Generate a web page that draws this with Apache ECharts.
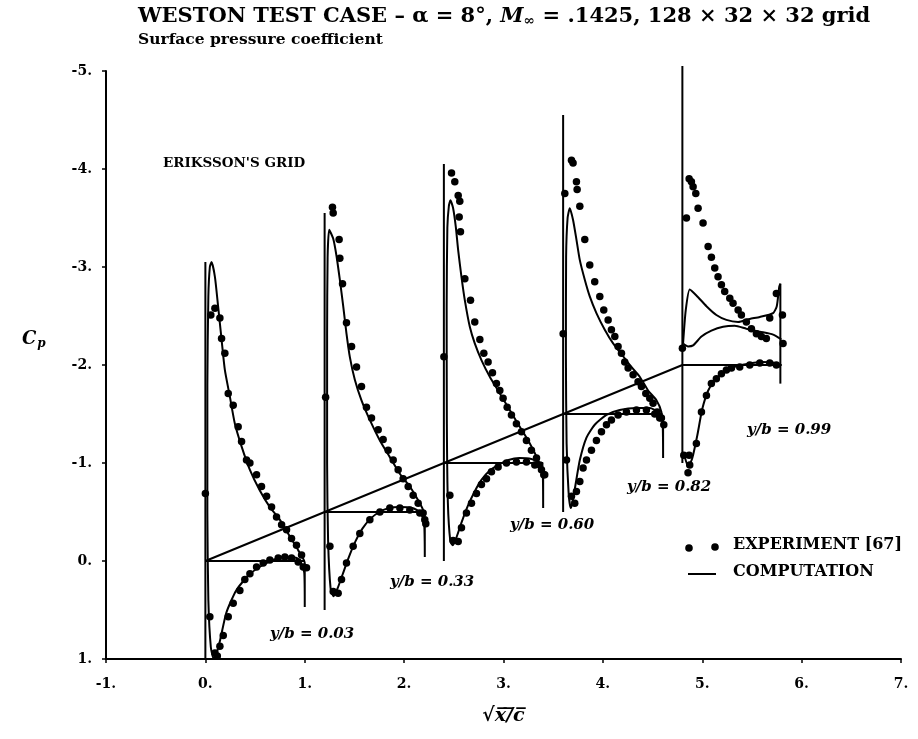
<!DOCTYPE html>
<html>
<head>
<meta charset="utf-8">
<script src="https://cdn.jsdelivr.net/npm/echarts@6/dist/echarts.min.js"></script>
<style>
  html, body { margin: 0; padding: 0; background: #fff; }
  #chart { width: 918px; height: 739px; }
</style>
</head>
<body>
<div id="chart"></div>
<script>
// Spanwise stations: each one is drawn shifted along sqrt(x/c) and Cp.
const stationNames = ['y/b = 0.03', 'y/b = 0.33', 'y/b = 0.60', 'y/b = 0.82', 'y/b = 0.99'];
const stationShiftX = [0, 1.2, 2.4, 3.6, 4.8];
const stationShiftCp = [0, -0.5, -1.0, -1.5, -2.0];

// Leading-edge reference line of every station, local Cp from/to.
const leadingEdgeSpan = [1.0, -3.05];
// Station zero line, local sqrt(x/c) from/to.
const zeroLineSpan = [0, 1.0];

// Axis ticks
const xTicks = [-1, 0, 1, 2, 3, 4, 5, 6, 7];
const yTicks = [-5, -4, -3, -2, -1, 0, 1];

// Experiment [67]: local [sqrt(x/c), Cp] per station
const exp003 = [
  [0, -0.69],
  [0.055, -2.51], [0.096, -2.58], [0.146, -2.48], [0.163, -2.27], [0.196, -2.12], [0.23, -1.71],
  [0.28, -1.59], [0.33, -1.37], [0.364, -1.22], [0.414, -1.03], [0.448, -1.0], [0.515, -0.88],
  [0.565, -0.76], [0.616, -0.66], [0.666, -0.55], [0.716, -0.45], [0.767, -0.37], [0.817, -0.32],
  [0.867, -0.23], [0.917, -0.16], [0.968, -0.06], [1.018, 0.07],
  [0.045, 0.57], [0.096, 0.94], [0.12, 0.97], [0.146, 0.87], [0.18, 0.76], [0.23, 0.57], [0.28, 0.43],
  [0.347, 0.3], [0.397, 0.19], [0.448, 0.13], [0.515, 0.06], [0.582, 0.02], [0.649, -0.01],
  [0.733, -0.03], [0.8, -0.04], [0.867, -0.03], [0.934, 0.01], [0.985, 0.06]
];
const exp033 = [
  [0.01, -1.17],
  [0.079, -3.11], [0.086, -3.05], [0.146, -2.78], [0.153, -2.59], [0.18, -2.33], [0.22, -1.93],
  [0.271, -1.69], [0.321, -1.48], [0.371, -1.28], [0.421, -1.07], [0.472, -0.96], [0.539, -0.84],
  [0.589, -0.74], [0.639, -0.63], [0.69, -0.53], [0.74, -0.43], [0.79, -0.34], [0.841, -0.26],
  [0.891, -0.17], [0.941, -0.09], [0.991, 0.01], [1.018, 0.12],
  [0.053, 0.35], [0.086, 0.81], [0.136, 0.83], [0.17, 0.69], [0.22, 0.52], [0.287, 0.35],
  [0.354, 0.22], [0.455, 0.08], [0.556, 0.0], [0.656, -0.04], [0.757, -0.04], [0.857, -0.02],
  [0.958, 0.01], [1.008, 0.08]
];
const exp060 = [
  [0, -1.085],
  [0.077, -2.96], [0.11, -2.87], [0.144, -2.73], [0.16, -2.67], [0.154, -2.51], [0.167, -2.36],
  [0.211, -1.88], [0.268, -1.66], [0.311, -1.44], [0.362, -1.26], [0.402, -1.12], [0.445, -1.03],
  [0.489, -0.92], [0.529, -0.81], [0.563, -0.74], [0.596, -0.66], [0.637, -0.57], [0.68, -0.49],
  [0.73, -0.4], [0.781, -0.32], [0.831, -0.23], [0.881, -0.13], [0.932, -0.05], [0.965, 0.02],
  [1.005, 0.12],
  [0.06, 0.33], [0.093, 0.79], [0.144, 0.8], [0.177, 0.66], [0.227, 0.51], [0.278, 0.41],
  [0.328, 0.31], [0.378, 0.22], [0.429, 0.16], [0.479, 0.09], [0.546, 0.04], [0.63, 0.0],
  [0.73, -0.01], [0.831, -0.01], [0.915, 0.02], [0.982, 0.07], [1.015, 0.12]
];
const exp082 = [
  [0, -0.82], [0.017, -2.25],
  [0.084, -2.59], [0.1, -2.56], [0.134, -2.37], [0.141, -2.29], [0.168, -2.12], [0.218, -1.78],
  [0.268, -1.52], [0.318, -1.35], [0.369, -1.2], [0.409, -1.06], [0.453, -0.96], [0.486, -0.86],
  [0.52, -0.79], [0.553, -0.69], [0.587, -0.62], [0.62, -0.53], [0.654, -0.47], [0.704, -0.4],
  [0.754, -0.33], [0.788, -0.28], [0.832, -0.21], [0.872, -0.16], [0.905, -0.11], [0.946, -0.02],
  [0.972, 0.04], [1.013, 0.11],
  [0.034, 0.47], [0.084, 0.84], [0.117, 0.91], [0.134, 0.79], [0.168, 0.69], [0.201, 0.55],
  [0.235, 0.47], [0.285, 0.37], [0.335, 0.27], [0.386, 0.18], [0.436, 0.11], [0.486, 0.06],
  [0.553, 0.01], [0.637, -0.02], [0.738, -0.04], [0.838, -0.04], [0.922, 0.0], [0.989, 0.04]
];
const exp099 = [
  [0, -0.17],
  [0.068, -1.9], [0.091, -1.87], [0.108, -1.82], [0.135, -1.75], [0.041, -1.5], [0.158, -1.6],
  [0.208, -1.45], [0.259, -1.21], [0.292, -1.1], [0.326, -0.99], [0.359, -0.9], [0.393, -0.82],
  [0.426, -0.75], [0.477, -0.68], [0.51, -0.63], [0.561, -0.56], [0.594, -0.51], [0.644, -0.44],
  [0.695, -0.37], [0.745, -0.32], [0.795, -0.29], [0.845, -0.27], [0.879, -0.48], [0.946, -0.73],
  [1.007, -0.51], [1.013, -0.22],
  [0.014, 0.92], [0.068, 0.92], [0.074, 1.02], [0.057, 1.1], [0.141, 0.8], [0.192, 0.48],
  [0.242, 0.31], [0.292, 0.19], [0.342, 0.14], [0.393, 0.09], [0.443, 0.05], [0.494, 0.03],
  [0.577, 0.02], [0.678, 0.0], [0.779, -0.02], [0.879, -0.02], [0.946, 0.0]
];

// Computation: local [sqrt(x/c), Cp], traced TE -> lower surface -> LE -> upper surface -> TE
const comp003 = [
  [1.0, 0.47], [0.995, 0.12], [0.96, 0.01], [0.92, -0.03], [0.78, -0.04], [0.62, 0.02], [0.45, 0.13],
  [0.31, 0.3], [0.21, 0.53], [0.15, 0.8], [0.11, 0.95], [0.085, 1.0], [0.055, 0.88], [0.03, 0.4],
  [0.02, -0.5], [0.02, -1.8], [0.03, -2.7], [0.045, -3.0],
  [0.062, -3.05], [0.096, -2.9], [0.129, -2.59], [0.163, -2.26], [0.196, -1.95], [0.246, -1.68],
  [0.297, -1.4], [0.364, -1.17], [0.448, -0.93], [0.548, -0.72], [0.649, -0.55], [0.75, -0.42],
  [0.85, -0.25], [0.934, -0.11], [1.0, 0.02], [1.0, 0.47]
];
const comp033 = [
  [1.008, 0.46], [1.0, 0.1], [0.96, 0.0], [0.88, -0.04], [0.76, -0.05], [0.65, -0.04], [0.55, 0.0],
  [0.46, 0.07], [0.38, 0.17], [0.31, 0.3], [0.24, 0.47], [0.18, 0.64], [0.13, 0.78], [0.09, 0.86],
  [0.06, 0.78], [0.035, 0.3], [0.025, -0.5], [0.025, -1.8], [0.03, -2.6],
  [0.046, -2.88], [0.086, -2.79], [0.12, -2.61], [0.153, -2.37], [0.187, -2.1], [0.22, -1.82],
  [0.254, -1.58], [0.304, -1.35], [0.371, -1.14], [0.455, -0.94], [0.556, -0.73], [0.656, -0.56],
  [0.757, -0.39], [0.857, -0.26], [0.941, -0.12], [0.991, -0.02], [1.008, 0.08], [1.008, 0.46]
];
const comp060 = [
  [0.999, 0.46], [0.995, 0.12], [0.96, 0.0], [0.88, -0.04], [0.76, -0.05], [0.65, -0.03], [0.55, 0.02],
  [0.46, 0.08], [0.38, 0.17], [0.31, 0.29], [0.24, 0.44], [0.18, 0.6], [0.13, 0.75], [0.09, 0.84],
  [0.065, 0.8], [0.04, 0.4], [0.03, -0.4], [0.028, -1.6], [0.035, -2.4], [0.05, -2.62],
  [0.066, -2.68], [0.093, -2.6], [0.12, -2.41], [0.144, -2.17], [0.177, -1.9], [0.211, -1.66],
  [0.261, -1.39], [0.311, -1.22], [0.378, -1.05], [0.462, -0.88], [0.563, -0.71], [0.663, -0.54],
  [0.764, -0.37], [0.865, -0.2], [0.948, -0.03], [0.999, 0.12], [0.999, 0.46]
];
const comp082 = [
  [1.006, 0.45], [0.999, 0.06], [0.955, -0.02], [0.872, -0.06], [0.738, -0.06], [0.57, -0.04],
  [0.436, 0.01], [0.318, 0.11], [0.235, 0.24], [0.168, 0.47], [0.12, 0.75], [0.09, 0.92],
  [0.077, 0.96], [0.055, 0.8], [0.035, 0.3], [0.028, -0.6], [0.03, -1.6], [0.045, -2.0],
  [0.067, -2.1], [0.1, -1.98], [0.134, -1.78], [0.168, -1.57], [0.218, -1.37], [0.268, -1.2],
  [0.335, -1.03], [0.419, -0.86], [0.503, -0.72], [0.603, -0.59], [0.687, -0.48], [0.771, -0.38],
  [0.855, -0.24], [0.939, -0.14], [0.989, -0.02], [1.006, 0.16], [1.006, 0.45]
];
// Tip station: suction-side loop, trailing-edge line and pressure side
const comp099Upper = [
  [0.007, -0.22], [0.034, -0.56], [0.074, -0.77], [0.141, -0.71], [0.242, -0.6], [0.342, -0.51],
  [0.443, -0.46], [0.561, -0.44], [0.678, -0.47], [0.779, -0.49], [0.913, -0.53], [0.95, -0.6],
  [0.975, -0.8], [0.986, -0.83]
];
const comp099Inner = [
  [0.007, -0.22], [0.057, -0.19], [0.108, -0.2], [0.192, -0.29], [0.292, -0.35], [0.41, -0.39],
  [0.527, -0.4], [0.644, -0.37], [0.779, -0.34], [0.913, -0.31], [0.997, -0.26]
];
const comp099Edge = [[0.986, -0.83], [0.986, 0.19]];
const comp099Lower = [
  [0.02, 0.92], [0.06, 1.04], [0.1, 0.95], [0.15, 0.72], [0.2, 0.45], [0.26, 0.26], [0.33, 0.15],
  [0.42, 0.07], [0.52, 0.02], [0.65, -0.01], [0.8, -0.03], [0.93, -0.02], [0.986, 0.02]
];

const experiments = [exp003, exp033, exp060, exp082, exp099];
const computations = [[comp003], [comp033], [comp060], [comp082],
  [comp099Upper, comp099Inner, comp099Edge, comp099Lower]];

const INK = '#000';
const SERIF = '"DejaVu Serif", "Liberation Serif", serif';

function place(points, k) {
  return points.map(p => [p[0] + stationShiftX[k], p[1] + stationShiftCp[k]]);
}

function lineSeries(data, smooth) {
  return {
    type: 'line', data: data, showSymbol: false, symbol: 'none', clip: false,
    smooth: smooth || false, silent: true, z: 2,
    lineStyle: { color: INK, width: 2 }
  };
}

const series = [];
for (let k = 0; k < stationNames.length; k++) {
  // leading-edge reference line
  series.push(lineSeries(place([[0, leadingEdgeSpan[0]], [0, leadingEdgeSpan[1]]], k)));
  // station zero-Cp line
  series.push(lineSeries(place([[zeroLineSpan[0], 0], [zeroLineSpan[1], 0]], k)));
  computations[k].forEach(c => series.push(lineSeries(place(c, k), 0.2)));
  series.push({
    type: 'scatter', data: place(experiments[k], k), symbol: 'circle', symbolSize: 7.5,
    itemStyle: { color: INK, opacity: 1 }, silent: true, z: 3
  });
}
// line joining the station origins
series.push(lineSeries(stationShiftX.map((x, k) => [x, stationShiftCp[k]])));

const chart = echarts.init(document.getElementById('chart'), null, { renderer: 'canvas' });

const labelStyle = { color: INK, fontFamily: SERIF, fontWeight: 'bold', fontSize: 14 };

chart.setOption({
  animation: false,
  backgroundColor: '#fff',
  title: {
    left: 133, top: 1,
    text: 'WESTON TEST CASE – α = 8°, {i|M}{s|∞} = .1425, 128 × 32 × 32 grid',
    subtext: 'Surface pressure coefficient',
    itemGap: 4,
    textStyle: {
      color: INK, fontFamily: SERIF, fontWeight: 'bold', fontSize: 21,
      rich: {
        i: { fontFamily: SERIF, fontStyle: 'italic', fontWeight: 'bold', fontSize: 21, color: INK },
        s: { fontFamily: SERIF, fontWeight: 'bold', fontSize: 14, color: INK, verticalAlign: 'bottom', padding: [8, 0, 0, 0] }
      }
    },
    subtextStyle: { color: INK, fontFamily: SERIF, fontWeight: 'bold', fontSize: 15.5 }
  },
  grid: { left: 106, right: 17, top: 71, bottom: 80, containLabel: false },
  xAxis: {
    type: 'value', min: xTicks[0], max: xTicks[xTicks.length - 1], interval: 1,
    splitLine: { show: false },
    axisLine: { onZero: false, lineStyle: { color: INK, width: 2 } },
    axisTick: { length: 4, lineStyle: { color: INK, width: 1.5 } },
    axisLabel: Object.assign({ margin: 18, formatter: v => v + '.' }, labelStyle),
    name: '√x̅/̅c̅',
    nameLocation: 'middle', nameGap: 48,
    nameTextStyle: { color: INK, fontFamily: SERIF, fontStyle: 'italic', fontWeight: 'bold', fontSize: 19 }
  },
  yAxis: {
    type: 'value', inverse: true, min: yTicks[0], max: yTicks[yTicks.length - 1], interval: 1,
    splitLine: { show: false },
    axisLine: { onZero: false, lineStyle: { color: INK, width: 2 } },
    axisTick: { length: 4, lineStyle: { color: INK, width: 1.5 } },
    axisLabel: Object.assign({ margin: 14, formatter: v => v + '.' }, labelStyle)
  },
  graphic: [
    { type: 'text', left: 22, top: 330,
      style: { text: '{c|C}{p|p}', fill: INK,
        rich: { c: { fontFamily: SERIF, fontStyle: 'italic', fontWeight: 'bold', fontSize: 18, fill: INK },
                p: { fontFamily: SERIF, fontStyle: 'italic', fontWeight: 'bold', fontSize: 12, fill: INK, padding: [10, 0, 0, 1] } } } },
    { type: 'text', left: 163, top: 156, style: { text: "ERIKSSON'S GRID", fill: INK, font: 'bold 13.5px ' + SERIF } },
    { type: 'text', left: 270, top: 627, style: { text: stationNames[0], fill: INK, font: 'bold italic 15px ' + SERIF } },
    { type: 'text', left: 390, top: 575, style: { text: stationNames[1], fill: INK, font: 'bold italic 15px ' + SERIF } },
    { type: 'text', left: 510, top: 518, style: { text: stationNames[2], fill: INK, font: 'bold italic 15px ' + SERIF } },
    { type: 'text', left: 627, top: 480, style: { text: stationNames[3], fill: INK, font: 'bold italic 15px ' + SERIF } },
    { type: 'text', left: 747, top: 423, style: { text: stationNames[4], fill: INK, font: 'bold italic 15px ' + SERIF } },
    // key
    { type: 'circle', shape: { cx: 689, cy: 548, r: 3.8 }, style: { fill: INK } },
    { type: 'circle', shape: { cx: 715, cy: 547, r: 3.8 }, style: { fill: INK } },
    { type: 'text', left: 733, top: 537, style: { text: 'EXPERIMENT [67]', fill: INK, font: 'bold 16px ' + SERIF } },
    { type: 'line', shape: { x1: 688, y1: 574, x2: 716, y2: 574 }, style: { stroke: INK, lineWidth: 2 } },
    { type: 'text', left: 733, top: 564, style: { text: 'COMPUTATION', fill: INK, font: 'bold 16px ' + SERIF } }
  ],
  series: series
});
</script>
</body>
</html>
